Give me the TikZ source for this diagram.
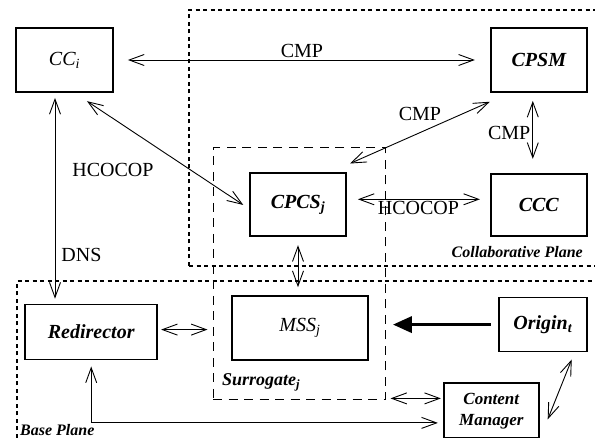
\documentclass[tikz,border=0pt]{standalone}
\usepackage{fontspec}
\setmainfont{Liberation Serif}
\usetikzlibrary{arrows.meta, positioning, calc}

\begin{document}
\begin{tikzpicture}[
        x=1pt, y=-1pt,
        font=\fontsize{20}{22}\selectfont,
        box/.style={draw, line width=1.8pt, inner sep=0pt, align=center, font=\fontsize{20}{22}\selectfont\bfseries\itshape},
        arr/.style={{Straight Barb[length=15pt,width=11pt]}-{Straight Barb[length=15pt,width=11pt]}, line width=0.9pt},
        push/.style={-{Triangle[length=19pt,width=16pt]}, line width=3.5pt},
        plane/.style={line width=2.2pt, dash pattern=on 4pt off 3.5pt},
        surr/.style={draw, line width=1pt, dash pattern=on 9pt off 6.5pt, inner sep=0pt, minimum width=172pt, minimum height=252pt},
        tag/.style={inner sep=0pt, font=\fontsize{16}{18}\selectfont\bfseries\itshape},
        lbl/.style={inner sep=2pt}
    ]
        \useasboundingbox (0,0) rectangle (595,438);

        % planes
        \draw[plane] (189,266) -- (189,10) -- (595,10);
        \draw[plane] (189,266) -- (595,266);
        \draw[plane] (17,438) -- (17,281) -- (595,281);
        \node[tag, anchor=base east] (collab) at (583,258) {Collaborative Plane};
        \node[tag, anchor=base west] (base) at (20,436) {Base Plane};

        % surrogate frame
        \node[surr] (surr) at (299,274) {};
        \node[tag, font=\fontsize{18}{20}\selectfont\bfseries\itshape, anchor=base west] (surrtag) at (222,386) {Surrogate\textsubscript{j}};

        % boxes
        \node[box, minimum width=97pt, minimum height=64pt, font=\fontsize{20}{22}\selectfont\itshape] (cc) at (64.5,60) {CC\textsubscript{i}};
        \node[box, minimum width=96pt, minimum height=64pt, right=376pt of cc] (cpsm) {CPSM};
        \node[box, minimum width=96pt, minimum height=62pt, below=80pt of cpsm] (ccc) {CCC};
        \node[box, minimum width=96pt, minimum height=63pt, left=143pt of ccc] (cpcs) {CPCS\textsubscript{j}};
        \node[box, minimum width=136pt, minimum height=64pt, below=58pt of cpcs, xshift=2pt, font=\fontsize{20}{22}\selectfont\itshape] (mss) {MSS\textsubscript{j}};
        \node[box, minimum width=132pt, minimum height=55pt, left=73pt of mss, yshift=-4pt] (redir) {Redirector};
        \node[box, minimum width=88pt, minimum height=54pt, right=129pt of mss, yshift=3.5pt] (origin) {Origin\textsubscript{t}};
        \node[box, minimum width=95pt, minimum height=55pt, below=30pt of origin, xshift=-51.5pt, font=\fontsize{17}{21}\selectfont\bfseries\itshape] (cm) {Content\\Manager};

        % connectors
        \draw[arr, shorten <=14pt, shorten >=15pt] (cc) -- node[lbl, above]{CMP} (cpsm);
        \draw[arr, shorten <=15pt, shorten >=7pt] ([xshift=10pt]cc.south) -- node[lbl, pos=0.22, below=42pt]{HCOCOP} ([yshift=-4pt]cpcs.west);
        \draw[arr, shorten <=22pt, shorten >=22pt] ([xshift=20pt]cpsm.south west) -- node[lbl, midway, above=10pt]{CMP} ([xshift=-17pt]cpcs.north east);
        \draw[arr, shorten <=8pt, shorten >=14pt] ([xshift=-6pt]cpsm.south) -- node[lbl, midway, left]{CMP} ([xshift=-6pt]ccc.north);
        \draw[arr, shorten <=11pt, shorten >=10pt] ([yshift=5.5pt]cpcs.east) -- node[lbl, midway, below]{HCOCOP} ([yshift=5.5pt]ccc.west);
        \draw[arr, shorten <=8pt, shorten >=8pt] (cpcs.south) -- (cpcs.south |- mss.north);
        \draw[arr, shorten <=5pt, shorten >=5pt] ([xshift=-9.5pt]cc.south) -- node[lbl, pos=0.77, right=4pt]{DNS} ([xshift=-9.5pt]cc.south |- redir.north);
        \draw[arr, shorten <=3pt, shorten >=5pt] ([yshift=2.5pt]redir.east) -- ([yshift=2.5pt]redir.east -| surr.west);
        \draw[push, shorten <=7pt, shorten >=24pt] (origin.west) -- (origin.west -| mss.east);
        \draw[arr, shorten <=2pt, shorten >=5pt] ([yshift=12.5pt]cm.west) -- ([yshift=12.5pt]cm.west -| surr.east);
        \draw[arr, shorten <=6pt, shorten >=5pt] (redir.south) |- ([yshift=-12pt]cm.west);
        \draw[arr] ([xshift=8pt,yshift=-8.5pt]cm.east) -- ([xshift=-16pt,yshift=-7pt]origin.south east);
    \end{tikzpicture}
\end{document}
